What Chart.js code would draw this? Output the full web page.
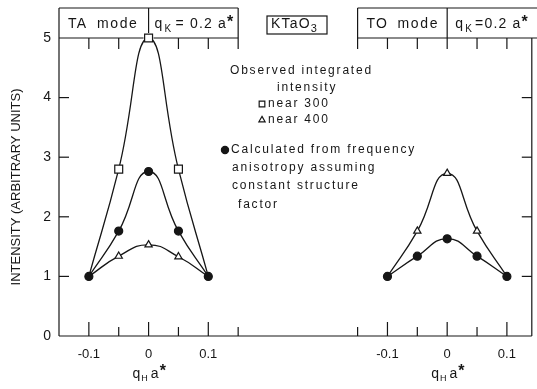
<!DOCTYPE html>
<html>
<head>
<meta charset="utf-8">
<script src="https://cdn.jsdelivr.net/npm/chart.js@4.4.0/dist/chart.umd.min.js"></script>
<style>
  html, body { margin: 0; padding: 0; background: #fff; }
  #wrap { width: 537px; height: 389px; position: relative; }
</style>
</head>
<body>
<div id="wrap"><canvas id="chart"></canvas></div>
<script>
// q_H a* positions of the measured points (same in both panels)
const qH = [-0.1, -0.05, 0, 0.05, 0.1];

// TA mode panel
const taNear300 = [1, 2.8, 5.0, 2.8, 1];
const taNear400 = [1, 1.34, 1.53, 1.33, 1];
const taCalc = [1, 1.76, 2.76, 1.76, 1];

// TO mode panel
const toNear400 = [1, 1.76, 2.73, 1.76, 1];
const toCalc = [1, 1.34, 1.63, 1.34, 1];

const yTicks = [0, 1, 2, 3, 4, 5];
const qTickLabels = ['-0.1', '0', '0.1'];
const qTickValues = [-0.1, 0, 0.1];

const TO_OFFSET = 0.5; // TO panel drawn to the right on the same x scale
const INK = '#161616';
const FONT = '"Liberation Sans", Arial, sans-serif';

function pts(xs, ys, off) {
  return xs.map((q, i) => ({ x: q + off, y: ys[i] }));
}

function lineSet(data, style, radius, fill) {
  return {
    data: data,
    borderColor: INK,
    borderWidth: 1.3,
    tension: 0.5,
    clip: false,
    pointStyle: style,
    pointRadius: data.map((p, i) => (i === 0 || i === data.length - 1) && style !== 'circle' ? 0 : radius),
    pointBackgroundColor: fill,
    pointBorderColor: INK,
    pointBorderWidth: 1.2
  };
}

function seg(ctx, x1, y1, x2, y2) {
  ctx.beginPath();
  ctx.moveTo(x1, y1);
  ctx.lineTo(x2, y2);
  ctx.stroke();
}

// draw text pieces left to right, each with its own size / vertical shift
function rich(ctx, parts, x, y, spacing) {
  ctx.letterSpacing = spacing + 'px';
  for (const p of parts) {
    ctx.font = (p.bold ? 'bold ' : '') + (p.size || 14) + 'px ' + FONT;
    ctx.fillText(p.t, x, y + (p.dy || 0));
    x += ctx.measureText(p.t).width + (p.gap || 0);
  }
  ctx.letterSpacing = '0px';
}

const overlay = {
  id: 'overlay',
  afterDraw(chart) {
    const { ctx, chartArea: a, scales: { x, y } } = chart;
    const W = chart.width;
    const hTop = a.top - 30;
    ctx.save();
    ctx.strokeStyle = INK;
    ctx.fillStyle = INK;
    ctx.lineWidth = 1.2;

    // frame
    seg(ctx, a.left, hTop, a.left, a.bottom);
    seg(ctx, a.left, a.bottom, a.right, a.bottom);
    seg(ctx, a.right, a.top, a.right, a.bottom);

    // header boxes
    const l0 = x.getPixelForValue(-0.15), l1 = x.getPixelForValue(0), l2 = x.getPixelForValue(0.15);
    const r0 = x.getPixelForValue(TO_OFFSET - 0.15), r1 = x.getPixelForValue(TO_OFFSET);
    seg(ctx, l0, hTop, l2, hTop);
    seg(ctx, l2, hTop, l2, a.top);
    seg(ctx, l0, a.top, l1 - 5, a.top);
    seg(ctx, l1 + 5, a.top, l2, a.top);
    seg(ctx, l1, hTop, l1, a.top - 5);
    seg(ctx, r0, hTop, W, hTop);
    seg(ctx, r0, a.top, W, a.top);
    seg(ctx, r0, hTop, r0, a.top);
    seg(ctx, r1, hTop, r1, a.top);

    // tick marks on x (bottom up, top down)
    const qs = [-0.15, -0.1, -0.05, 0, 0.05, 0.1, 0.15];
    [0, TO_OFFSET].forEach(off => {
      qs.forEach(q => {
        const v = q + off;
        if (v < -0.149 || v > 0.61) return;
        const px = x.getPixelForValue(v);
        const major = Math.abs(Math.abs(q) - 0.1) < 1e-6 || Math.abs(q) < 1e-6;
        if (px > a.left + 1) seg(ctx, px, a.bottom, px, a.bottom - (major ? 14 : 9));
        if (off === 0 && Math.abs(q) < 1e-6) return;
        if (off === 0 ? q > -0.149 : q > -0.16) seg(ctx, px, a.top, px, a.top + 11);
      });
    });
    // tick marks on y, both sides
    [1, 2, 3, 4].forEach(v => {
      const py = y.getPixelForValue(v);
      seg(ctx, a.left, py, a.left + 10, py);
      seg(ctx, a.right, py, a.right - 10, py);
    });

    ctx.textBaseline = 'middle';
    ctx.textAlign = 'left';
    const hy = a.top - 14;
    rich(ctx, [{ t: 'TA' }], l0 + 9, hy, 1.2);
    rich(ctx, [{ t: 'mode' }], l0 + 38, hy, 1.6);
    const qk = [{ t: 'q', gap: 1 }, { t: 'K', size: 10, dy: 5, gap: 3 }, { t: '= 0.2 a', size: 14 }, { t: '*', size: 16, bold: true, dy: -1 }];
    rich(ctx, qk, l1 + 6, hy, 1.2);
    rich(ctx, [{ t: 'TO' }], r0 + 9, hy, 1.2);
    rich(ctx, [{ t: 'mode' }], r0 + 40, hy, 1.6);
    const qk2 = [{ t: 'q', gap: 1 }, { t: 'K', size: 10, dy: 5, gap: 2 }, { t: '=0.2 a', size: 14 }, { t: '*', size: 16, bold: true, dy: -1 }];
    rich(ctx, qk2, r1 + 8, hy, 1.2);

    // KTaO3 label box
    ctx.strokeRect(267, hTop + 8, 60, 18);
    rich(ctx, [{ t: 'KTaO', size: 14 }, { t: '3', size: 11, dy: 4 }], 271, hTop + 16.5, 1.2);

    // axis titles under each panel
    const xt = [{ t: 'q', size: 14, gap: 0 }, { t: 'H', size: 9, dy: 5, gap: 2 }, { t: 'a', size: 14 }, { t: '*', size: 16, bold: true, dy: -2 }];
    rich(ctx, xt, l1 - 16, a.bottom + 38, 1);
    rich(ctx, xt, r1 - 16, a.bottom + 38, 1);

    // key and notes
    const sp = 1.8;
    rich(ctx, [{ t: 'Observed integrated', size: 12 }], 230, 71, sp);
    rich(ctx, [{ t: 'intensity', size: 12 }], 277, 88, sp);
    ctx.fillStyle = '#fff';
    Chart.helpers.drawPoint(ctx, { pointStyle: 'rect', radius: 4, borderWidth: 1 }, 262, 104);
    Chart.helpers.drawPoint(ctx, { pointStyle: 'triangle', radius: 3.6, borderWidth: 1 }, 262, 120);
    ctx.fillStyle = INK;
    rich(ctx, [{ t: 'near 300', size: 12 }], 268, 104, sp);
    rich(ctx, [{ t: 'near 400', size: 12 }], 268, 120, sp);
    Chart.helpers.drawPoint(ctx, { pointStyle: 'circle', radius: 3.6, borderWidth: 1 }, 225, 150);
    rich(ctx, [{ t: 'Calculated from frequency', size: 12 }], 231, 150, sp);
    rich(ctx, [{ t: 'anisotropy assuming', size: 12 }], 232, 168, sp);
    rich(ctx, [{ t: 'constant structure', size: 12 }], 232, 186, sp);
    rich(ctx, [{ t: 'factor', size: 12 }], 238, 205, sp);
    ctx.restore();
  }
};

new Chart(document.getElementById('chart'), {
  type: 'line',
  data: {
    datasets: [
      lineSet(pts(qH, taNear300, 0), 'rect', 5.6, '#fff'),
      lineSet(pts(qH, taNear400, 0), 'triangle', 4.2, '#fff'),
      lineSet(pts(qH, taCalc, 0), 'circle', 4, INK),
      lineSet(pts(qH, toNear400, TO_OFFSET), 'triangle', 4.2, '#fff'),
      lineSet(pts(qH, toCalc, TO_OFFSET), 'circle', 4, INK)
    ]
  },
  options: {
    responsive: true,
    maintainAspectRatio: false,
    animation: false,
    layout: { padding: { left: 0, right: 2, top: 38, bottom: 0 } },
    plugins: { legend: { display: false }, tooltip: { enabled: false } },
    scales: {
      x: {
        type: 'linear',
        min: -0.15,
        max: 0.6417,
        grid: { display: false, drawTicks: false },
        border: { display: false },
        afterBuildTicks: s => { s.ticks = qTickValues.concat(qTickValues.map(v => v + TO_OFFSET)).map(v => ({ value: v })); },
        afterFit: s => { s.height = 53; },
        ticks: {
          padding: 11,
          color: INK,
          font: { family: FONT, size: 13 },
          callback: (v, i) => qTickLabels[i % 3]
        }
      },
      y: {
        min: 0,
        max: 5,
        grid: { display: false, drawTicks: false },
        border: { display: false },
        afterBuildTicks: s => { s.ticks = yTicks.map(v => ({ value: v })); },
        afterFit: s => { s.width = 59; },
        ticks: {
          padding: 8,
          color: INK,
          font: { family: FONT, size: 14 }
        },
        title: {
          display: true,
          text: 'INTENSITY (ARBITRARY UNITS)',
          color: INK,
          padding: { top: 9, bottom: 0 },
          font: { family: FONT, size: 13 }
        }
      }
    }
  },
  plugins: [overlay]
});
</script>
</body>
</html>
